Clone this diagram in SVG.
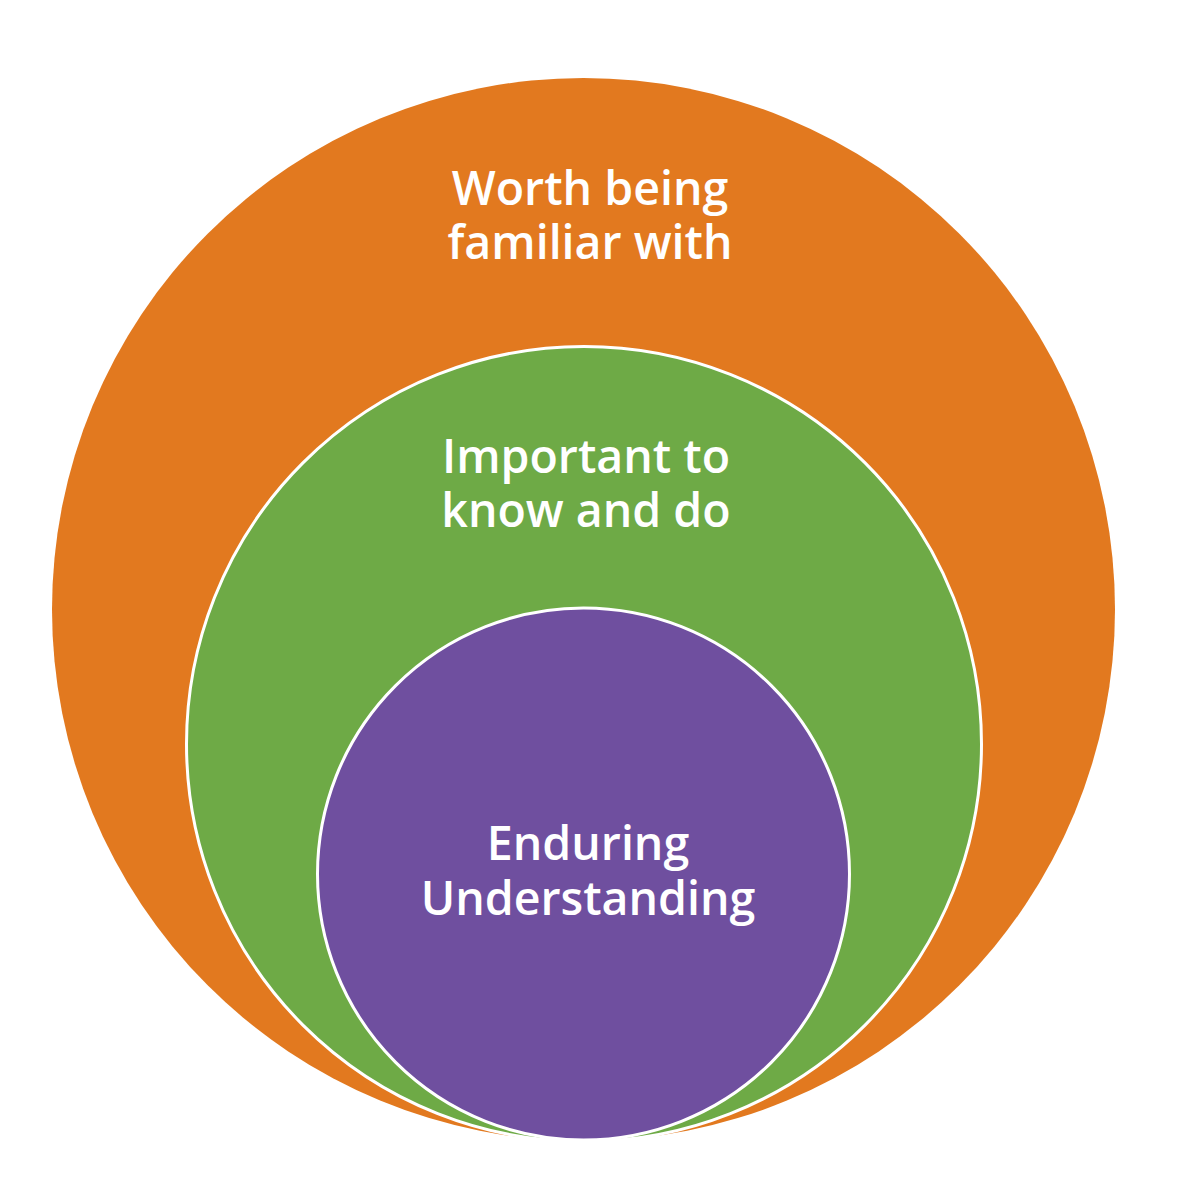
<svg xmlns="http://www.w3.org/2000/svg" width="1200" height="1200" viewBox="0 0 1200 1200">
  <style>
    .ring { stroke: #ffffff; stroke-width: 3; }
    .label { font-family: "Open Sans", "Liberation Sans", sans-serif; font-weight: 600; font-size: 46.5px; fill: #ffffff; text-anchor: middle; }
  </style>
  <rect width="1200" height="1200" fill="#ffffff"/>
  <g id="worth-being-familiar">
    <circle cx="583.5" cy="609.5" r="531.5" fill="#e2791f"/>
    <text class="label" x="590" y="205">Worth being</text>
    <text class="label" x="590" y="259">familiar with</text>
  </g>
  <g id="important-to-know">
    <circle class="ring" cx="584" cy="744" r="397.5" fill="#6eaa46"/>
    <text class="label" x="586" y="473">Important to</text>
    <text class="label" x="586" y="527">know and do</text>
  </g>
  <g id="enduring-understanding">
    <circle class="ring" cx="583.5" cy="874" r="266" fill="#6f4f9f"/>
    <text class="label" x="588" y="860">Enduring</text>
    <text class="label" x="588" y="915">Understanding</text>
  </g>
  <g id="connectors"/>
</svg>
